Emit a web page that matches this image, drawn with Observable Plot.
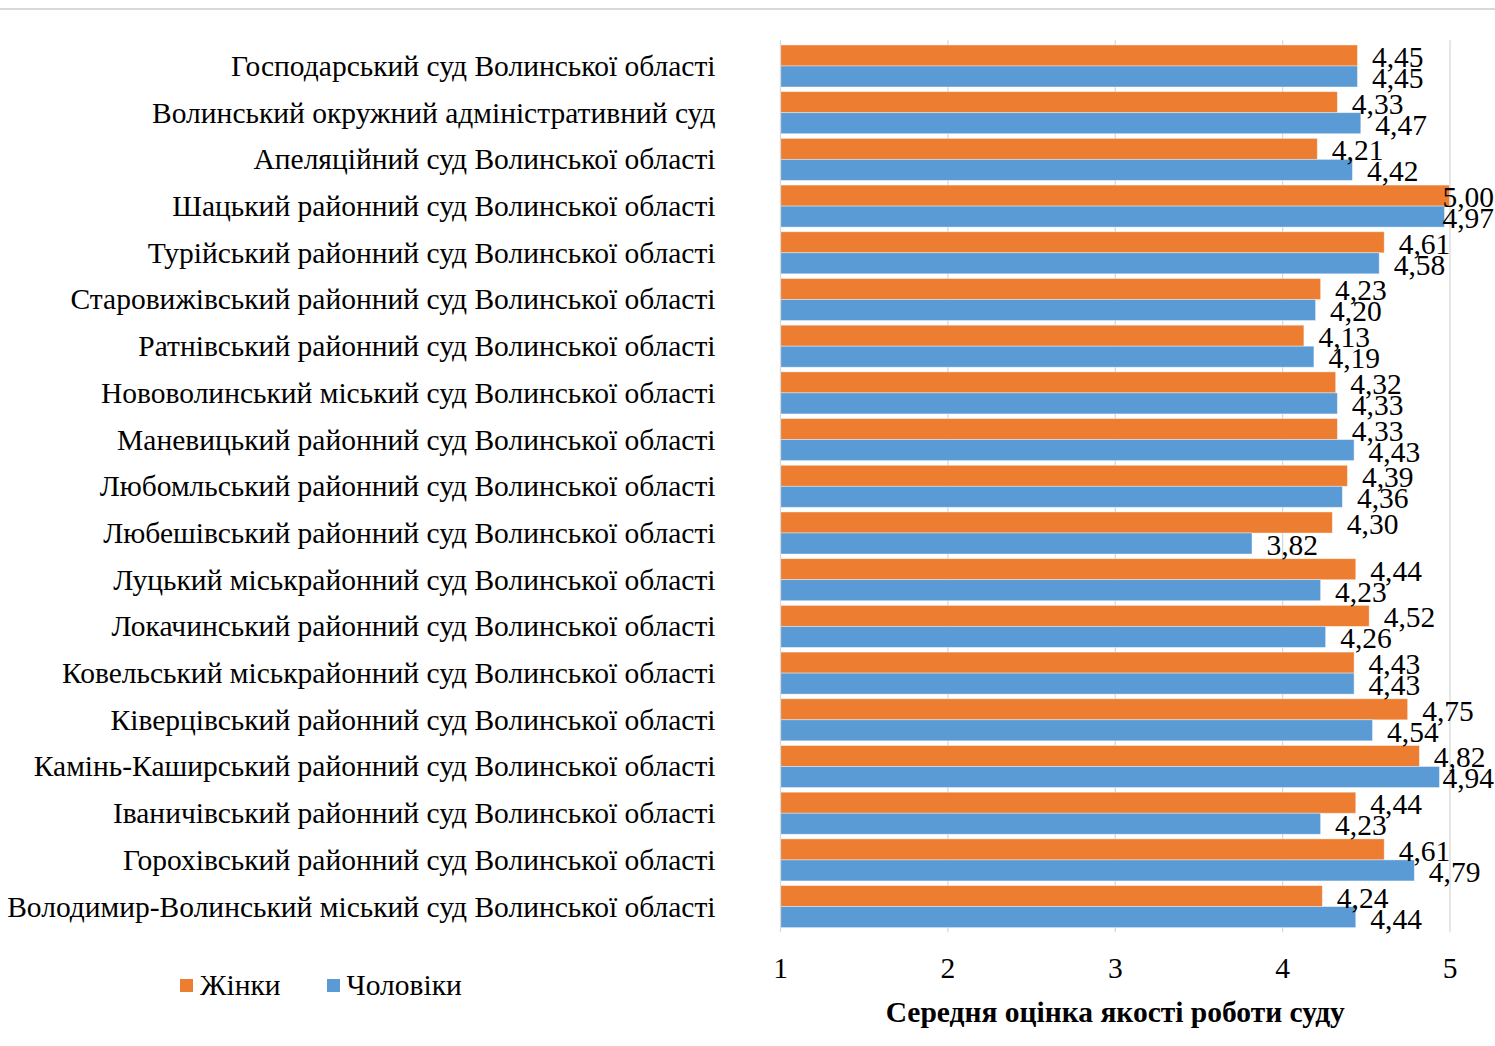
<!DOCTYPE html>
<html>
<head>
<meta charset="utf-8">
<script src="https://cdn.jsdelivr.net/npm/d3@7"></script>
<script src="https://cdn.jsdelivr.net/npm/@observablehq/plot@0.6"></script>
<style>
  html, body { margin: 0; padding: 0; background: #fff; }
  #wrap { position: relative; width: 1495px; height: 1046px; font-family: "Liberation Serif", "Times New Roman", serif; }
  #topline { position: absolute; left: 0; top: 8px; width: 1495px; height: 0; border-top: 2px solid #d9d9d9; }
  #legend { position: absolute; left: 180px; top: 967px; font-size: 29.5px; line-height: 36px; color: #000; display: flex; gap: 46px; align-items: center; }
  .item { display: flex; align-items: center; }
  .sw { width: 13px; height: 13px; display: inline-block; margin-right: 7px; }
</style>
</head>
<body>
<div id="wrap">
  <div id="topline"></div>
  <div id="chart"></div>
  <div id="legend"></div>
</div>
<script>
const courts = [
  "Господарський суд Волинської області",
  "Волинський окружний адміністративний суд",
  "Апеляційний суд Волинської області",
  "Шацький районний суд Волинської області",
  "Турійський районний суд Волинської області",
  "Старовижівський районний суд Волинської області",
  "Ратнівський районний суд Волинської області",
  "Нововолинський міський суд Волинської області",
  "Маневицький районний суд Волинської області",
  "Любомльський районний суд Волинської області",
  "Любешівський районний суд Волинської області",
  "Луцький міськрайонний суд Волинської області",
  "Локачинський районний суд Волинської області",
  "Ковельський міськрайонний суд Волинської області",
  "Ківерцівський районний суд Волинської області",
  "Камінь-Каширський районний суд Волинської області",
  "Іваничівський районний суд Волинської області",
  "Горохівський районний суд Волинської області",
  "Володимир-Волинський міський суд Волинської області"
];
const women = [4.45, 4.33, 4.21, 5.00, 4.61, 4.23, 4.13, 4.32, 4.33, 4.39, 4.30, 4.44, 4.52, 4.43, 4.75, 4.82, 4.44, 4.61, 4.24];
const men   = [4.45, 4.47, 4.42, 4.97, 4.58, 4.20, 4.19, 4.33, 4.43, 4.36, 3.82, 4.23, 4.26, 4.43, 4.54, 4.94, 4.23, 4.79, 4.44];
const seriesNames = ["Жінки", "Чоловіки"];
const colors = ["#ED7D31", "#5B9BD5"];
const xTicks = [1, 2, 3, 4, 5];
const axisTitle = "Середня оцінка якості роботи суду";

const rowsW = courts.map((c, i) => ({court: c, value: women[i]}));
const rowsM = courts.map((c, i) => ({court: c, value: men[i]}));

const fmt = v => v.toFixed(2).replace(".", ",");
const font = "'Liberation Serif', 'Times New Roman', serif";
const fs = 29.5;
const half = 21;
const edge = 4.87;

const labelMarks = (rows, dy) => [
  Plot.text(rows.filter(d => d.value <= edge), {x: "value", y: "court", text: d => fmt(d.value), dx: 14, dy, textAnchor: "start", fontSize: fs, fill: "#000"}),
  Plot.text(rows.filter(d => d.value > edge), {frameAnchor: "right", y: "court", text: d => fmt(d.value), dx: 44, dy, textAnchor: "end", fontSize: fs, fill: "#000"})
];

const chart = Plot.plot({
  width: 1495,
  height: 1046,
  marginLeft: 780,
  marginRight: 45.5,
  marginTop: 40.3,
  marginBottom: 113.7,
  style: {fontFamily: font, background: "transparent", overflow: "visible"},
  x: {domain: [1, 5], ticks: xTicks, label: null},
  y: {domain: courts, padding: 0.1, round: false, label: null},
  marks: [
    Plot.ruleX(xTicks.slice(1), {stroke: "#d9d9d9", strokeWidth: 1.3}),
    Plot.barX(rowsW, {x1: 1, x2: "value", y: "court", fill: colors[0], insetBottom: half, insetTop: 0, stroke: "#fff", strokeOpacity: 0.5, strokeWidth: 0.8}),
    Plot.barX(rowsM, {x1: 1, x2: "value", y: "court", fill: colors[1], insetTop: half, insetBottom: 0, stroke: "#fff", strokeOpacity: 0.5, strokeWidth: 0.8}),
    Plot.ruleX([1], {stroke: "#d9d9d9", strokeWidth: 1.3}),
    ...labelMarks(rowsW, -9),
    ...labelMarks(rowsM, 12),
    Plot.axisY({tickSize: 0, tickPadding: 65, fontSize: fs, label: null, textAnchor: "end"}),
    Plot.axisX({ticks: xTicks, tickSize: 0, tickPadding: 24, fontSize: fs, label: null, tickFormat: d => String(d)}),
    Plot.text([axisTitle], {frameAnchor: "bottom", dy: 89, fontSize: fs, fontWeight: "bold", fill: "#000"})
  ]
});
document.getElementById("chart").appendChild(chart);

const legend = document.getElementById("legend");
seriesNames.forEach((n, i) => {
  const it = document.createElement("div");
  it.className = "item";
  const sw = document.createElement("span");
  sw.className = "sw";
  sw.style.background = colors[i];
  it.appendChild(sw);
  it.appendChild(document.createTextNode(n));
  legend.appendChild(it);
});
</script>
</body>
</html>
